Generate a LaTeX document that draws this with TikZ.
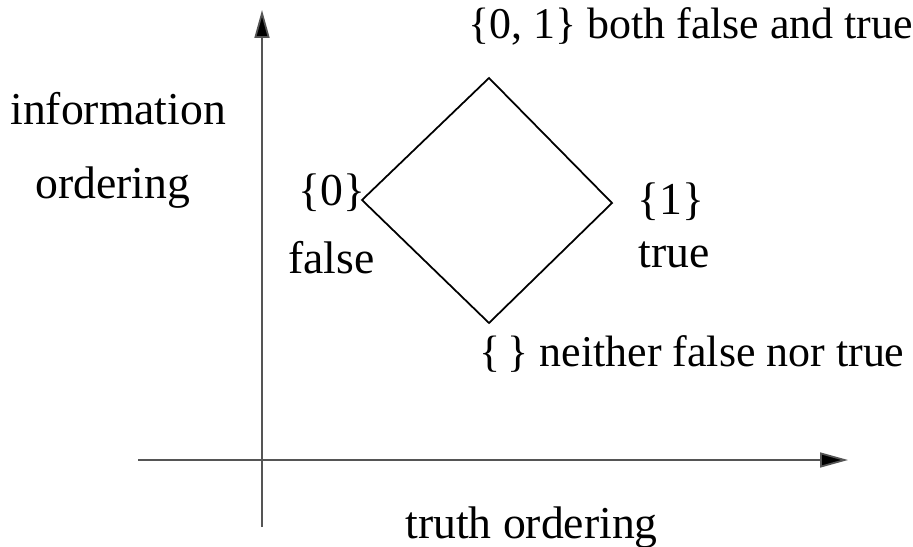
\documentclass[tikz,border=0pt]{standalone}
\usepackage{fontspec}
\setmainfont{Liberation Serif}
\usetikzlibrary{positioning,arrows.meta}
\definecolor{axisgrey}{HTML}{555555}
\begin{document}
\begin{tikzpicture}[x=0.02cm, y=-0.02cm,
  font=\fontsize{26}{30}\selectfont,
  lbl/.style={anchor=base west, inner sep=0pt},
  longlbl/.style={lbl, font=\fontsize{25}{30}\selectfont},
  axis/.style={draw=axisgrey, line width=1pt},
  tip/.style={-{Triangle[length=0.56cm, width=0.3cm, fill=black]}},
  edge/.style={draw=black, line width=1pt}]
\useasboundingbox (0,0) rectangle (913,547);
% ===== axes =====
\coordinate (vlow) at (262,527);
\coordinate (vtop) at (262,10);
\coordinate (hleft) at (138,460);
\coordinate (hright) at (848,460);
\draw[axis, tip] (vlow) -- (vtop);
\draw[axis, tip] (hleft) -- (hright);
% ===== lattice =====
\coordinate (both) at (489,78);
\coordinate (fls) at (362,200);
\coordinate (tru) at (612,203);
\coordinate (none) at (489,323);
\draw[edge] (fls) -- (both) -- (tru) -- (none) -- cycle;
% ===== labels =====
\node[longlbl] (lboth) at (468,39) {\{0, 1\} both false and true};
\node[lbl] (linfo) at (10,125) {information};
\node[lbl] (lord) at (35,199) {ordering};
\node[lbl] (lzero) at (298,206) {\{0\}};
\node[lbl] (lfalse) at (288,274) {false};
\node[lbl] (lone) at (637,215) {\{1\}};
\node[lbl] (ltrue) at (638,268) {true};
\node[longlbl] (lnone) at (479,366) {\{\,\} neither false nor true};
\node[lbl] (ltruth) at (405,538) {truth ordering};
\end{tikzpicture}
\end{document}
